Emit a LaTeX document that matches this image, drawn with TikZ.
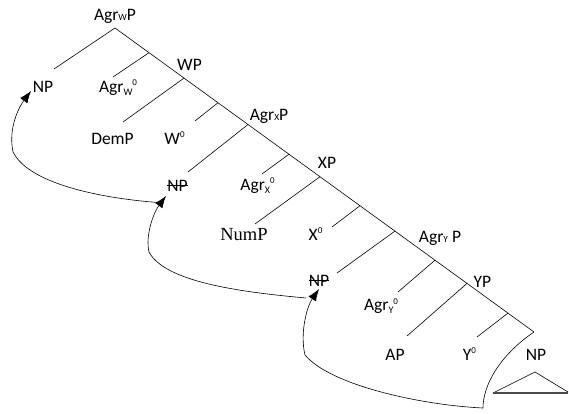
\documentclass[tikz,border=0pt]{standalone}
\usepackage{fontspec}
\newfontfamily\labfont{Carlito}
\newfontfamily\serfont{Liberation Serif}
\usetikzlibrary{arrows.meta}
\newcommand\smsub[1]{{\fontsize{9.5}{10}\selectfont #1}}
\newcommand\lowsub[1]{\raisebox{-3pt}{\fontsize{10}{10}\selectfont #1}}
\newcommand\supz[1]{\raisebox{6.5pt}{\fontsize{9}{9}\selectfont #1}}
\tikzset{
  lab/.style={inner sep=0pt, anchor=base, font=\labfont\fontsize{17.5}{20}\selectfont},
  serlab/.style={inner sep=0pt, anchor=base, font=\serfont\fontsize{18.5}{20}\selectfont},
  branch/.style={line width=0.6pt},
  move/.style={line width=0.6pt, -{Latex[length=12pt,width=9pt]}},
  strike/.style={line width=0.6pt},
}
\begin{document}
\begin{tikzpicture}[x=1pt,y=-1pt]
\useasboundingbox (0,0) rectangle (569,414);
% labels
\node[lab] (agrwp) at (115,21) {Agr\smsub{W}P};
\node[lab] (np0) at (43,93) {NP};
\node[lab] (agrw0) at (118,92.5) {Agr\lowsub{W}\supz{0}};
\node[lab] (wp) at (189.5,71) {WP};
\node[lab] (demp) at (112.5,144.5) {DemP};
\node[lab] (w0) at (174.5,144.5) {W\supz{0}};
\node[lab] (agrxp) at (269,121) {Agr\smsub{X}P};
\node[lab] (np1) at (177.5,191) {NP};
\node[lab] (agrx0) at (257.5,190) {Agr\lowsub{X}\supz{0}};
\node[lab] (xp) at (327,168) {XP};
\node[serlab] (nump) at (244,240) {NumP};
\node[lab] (x0) at (315.5,240) {X\supz{0}};
\node[lab] (agryp) at (440,242) {Agr\smsub{Y} P};
\node[lab] (np2) at (319,286) {NP};
\node[lab] (agry0) at (381,310.5) {Agr\lowsub{Y}\supz{0}};
\node[lab] (yp) at (482.5,287) {YP};
\node[lab] (ap) at (395,360) {AP};
\node[lab] (y0) at (469.5,360) {Y\supz{0}};
\node[lab] (np3) at (536,360) {NP};
% strike-throughs
\draw[strike] ([yshift=5.5pt]np1.base west) -- ([yshift=5.5pt]np1.base east);
\draw[strike] ([yshift=5.5pt]np2.base west) -- ([yshift=5.5pt]np2.base east);
% spine
\coordinate (top) at (115,28);
\coordinate (bot) at (534,332);
\draw[branch] (top) -- (bot);
\draw[branch] (top) -- (54,69);
% branches from spine: y = 28 + 0.7255 (x-115)
\draw[branch] (149,52.7) -- (113,77);
\draw[branch] (184,78.1) -- (123,122);
\draw[branch] (218,102.7) -- (195,121);
\draw[branch] (248,124.5) -- (188,172);
\draw[branch] (289,154.2) -- (262,174);
\draw[branch] (320,176.7) -- (255,224);
\draw[branch] (360,205.7) -- (332,227);
\draw[branch] (395,231.1) -- (337,273);
\draw[branch] (435,260.2) -- (398,292);
\draw[branch] (467,283.4) -- (407,336);
\draw[branch] (508,313.1) -- (477,337);
% triangle under lowest NP
\draw[line width=0.6pt] (493,393) -- (535,372) -- (568,392);
\draw[line width=1.1pt, black!70] (493,393) -- (568,393);
% movement arrows
\draw[move] (158,202.5) .. controls (110,199) and (30,186) .. (13,152)
  .. controls (8,128) and (19,107) .. (31,91);
\draw[move] (306,298) .. controls (240,292) and (165,282) .. (149,252)
  .. controls (145,235) and (154,212) .. (166,196);
\draw[move] (bot) .. controls (500,355) and (483,385) .. (483,408)
  .. controls (420,405) and (330,385) .. (305,355)
  .. controls (300,335) and (306,308) .. (319,289);
\end{tikzpicture}
\end{document}
